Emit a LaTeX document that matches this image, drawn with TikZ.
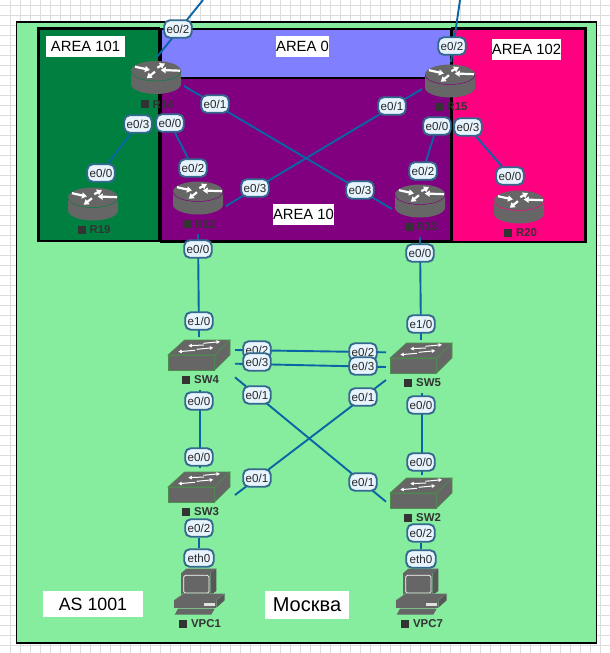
\documentclass[tikz,border=0pt]{standalone}
\usepackage{fontspec}
\setmainfont{Liberation Sans}
\usetikzlibrary{arrows.meta,calc}
\definecolor{gridc}{HTML}{DCDCDC}
\definecolor{asgreen}{HTML}{86EC9E}
\definecolor{linkc}{HTML}{0A65A5}
\definecolor{lblfill}{HTML}{E8F4FD}
\definecolor{lbledge}{HTML}{33698F}
\definecolor{devc}{HTML}{666666}
\definecolor{namec}{HTML}{333333}
\definecolor{a101}{HTML}{008040}
\definecolor{a0}{HTML}{8080FF}
\definecolor{a10}{HTML}{800080}
\definecolor{a102}{HTML}{FF0080}
\pgfdeclarelayer{bglayer}
\pgfdeclarelayer{links}
\pgfsetlayers{bglayer,links,main}
\newcommand{\sqname}[1]{\rule{8pt}{8pt}\hspace{4pt}#1}
\tikzset{
  x=1pt,y=-1pt,
  iface/.style={draw=lbledge,fill=lblfill,line width=1.9pt,rounded corners=5.5pt,minimum width=27.5pt,minimum height=17.5pt,inner sep=0pt,font=\fontsize{11.6}{11.6}\selectfont,text=black!85},
  ifacewide/.style={iface,minimum width=29.5pt},
  devname/.style={font=\fontsize{11.4}{11.4}\selectfont\bfseries,text=namec,inner sep=0pt},
  devbox/.style={inner sep=0pt,minimum width=#1,minimum height=30pt},
  arealabel/.style={fill=white,text=black,inner sep=0pt,minimum height=21pt,font=\fontsize{14.8}{15}\selectfont},
  areafill/.style={draw=black,line width=2.6pt},
  link/.style={draw=linkc,line width=1.9pt},
  rarrow/.style={white,line width=2.2pt,-{Triangle[width=6pt,length=5pt]}},
  sarrow/.style={white,line width=1pt,-{Triangle[width=3.5pt,length=3.5pt]}},
  router/.pic={
    \fill[devc] (-25,-6.5) -- (-25,6.5) arc[start angle=180,end angle=0,x radius=25,y radius=10] -- (25,-6.5) -- cycle;
    \fill[devc] (0,-6.5) ellipse [x radius=25,y radius=10];
    \draw[pic actions,line width=0.5pt] (-25,-6.5) arc[start angle=180,end angle=0,x radius=25,y radius=10];
    \draw[rarrow] (-21,-10.8) -- (-6,-7.5);
    \draw[rarrow] (24,-6.8) -- (4.7,-7.5);
    \draw[rarrow] (1.3,-9.8) -- (9,-14);
    \draw[rarrow] (-1,-5.8) -- (-9.3,0.8);
  },
  switchicon/.pic={
    \filldraw[fill=devc,draw=black!35!green!40!gray,line width=0.6pt] (-31,0) -- (15.7,0) -- (15.7,15) -- (-31,15) -- cycle;
    \filldraw[fill=devc,draw=black!35!green!40!gray,line width=0.6pt] (-31,0) -- (-14.5,-15) -- (31,-15) -- (15.7,0) -- cycle;
    \filldraw[fill=devc,draw=black!35!green!40!gray,line width=0.6pt] (15.7,0) -- (31,-15) -- (31,0) -- (15.7,15) -- cycle;
    \draw[sarrow] (4.3,-11.7) -- (21,-13.3);
    \draw[sarrow] (5,-10) -- (-10.7,-9.3);
    \draw[sarrow] (-2.3,-5.7) -- (14.3,-7.3);
    \draw[sarrow] (-4,-4.7) -- (-20.7,-3.3);
  },
  pcicon/.pic={
    \fill[devc] (-17.7,-19) -- (-12.7,-23.3) -- (17.3,-23.3) -- (11.3,-19) -- cycle;
    \fill[devc!85!black] (11.3,-19) -- (17.3,-23.3) -- (17.3,-1) -- (11.3,3.3) -- cycle;
    \fill[devc] (-17.7,-19) rectangle (11.3,3.3);
    \draw[white,line width=0.7pt,rounded corners=1.5pt] (-15.3,-16.7) rectangle (10,1);
    \filldraw[fill=devc,draw=asgreen!70!gray,line width=0.4pt] (-25.3,8.3) -- (-16,1.7) -- (25.7,1.7) -- (17.3,8.3) -- cycle;
    \fill[devc] (-25.3,8.3) rectangle (17.3,15.7);
    \fill[devc!85!black] (17.3,8.3) -- (25.7,1.7) -- (25.7,8.3) -- (17.3,15.7) -- cycle;
    \fill[white!80!devc] (4.7,11.3) rectangle (16.3,13.7);
    \fill[devc] (-24.3,22.7) -- (-21,16.7) -- (15.7,16.7) -- (12.3,22.7) -- cycle;
  }
}
\begin{document}
\begin{tikzpicture}
\useasboundingbox (0,0) rectangle (610,653);
\begin{pgfonlayer}{bglayer}
  \fill[white] (0,0) rectangle (610,653);
  \foreach \gx in {10,20,...,600} {\draw[gridc,line width=1pt] (\gx,0) -- (\gx,653);}
  \foreach \gy in {5,15,...,645} {\draw[gridc,line width=1pt] (0,\gy) -- (610,\gy);}
  \filldraw[fill=asgreen,draw=black,line width=1.3pt] (16.5,22) rectangle (596.5,643);
  \filldraw[fill=a0,areafill,line width=2pt] (160.5,28.7) rectangle (450.7,78);
  \filldraw[fill=a10,areafill] (161,78) rectangle (451,241.5);
  \filldraw[fill=a101,areafill] (38.7,28.7) rectangle (159,241);
  \filldraw[fill=a102,areafill] (452,28.7) rectangle (585.5,242);
\end{pgfonlayer}

% area and site labels
\node[arealabel,minimum width=79pt] (t101) at (85.5,46.5) {AREA 101};
\node[arealabel,minimum width=51pt] (t0) at (302.5,46.5) {AREA 0};
\node[arealabel,minimum width=59pt] (t10) at (303.5,214.5) {AREA 10};
\node[arealabel,minimum width=67pt] (t102) at (526.5,49.5) {AREA 102};
\node[arealabel,minimum width=100pt,minimum height=26pt,font=\fontsize{17.8}{18}\selectfont] (tas) at (93,604) {AS 1001};
\node[arealabel,minimum width=84pt,minimum height=28pt,font=\fontsize{20}{20}\selectfont] (tmsk) at (307,605) {Москва};

% routers
\node[devbox=50pt] (r14) at (156,77.5) {};
\node[devbox=50pt] (r19) at (93,204) {};
\node[devbox=50pt] (r12) at (198,198) {};
\node[devbox=50pt] (r15) at (450,81) {};
\node[devbox=50pt] (r13) at (420,201) {};
\node[devbox=50pt] (r20) at (519,207) {};
\pic[draw=a101] at (r14) {router};
\pic[draw=a101] at (r19) {router};
\pic[draw=a10] at (r12) {router};
\pic[draw=a10] at (r15) {router};
\pic[draw=a10] at (r13) {router};
\pic[draw=a102] at (r20) {router};

% switches
\node[devbox=62pt] (sw4) at (199,355) {};
\node[devbox=62pt] (sw5) at (421,358) {};
\node[devbox=62pt] (sw3) at (199,487) {};
\node[devbox=62pt] (sw2) at (421,493) {};
\pic at (sw4) {switchicon};
\pic at (sw5) {switchicon};
\pic at (sw3) {switchicon};
\pic at (sw2) {switchicon};

% hosts
\node[devbox=51pt] (vpc1) at (199,592) {};
\node[devbox=51pt] (vpc7) at (421,592) {};
\pic at (vpc1) {pcicon};
\pic at (vpc7) {pcicon};

% device names
\node[devname] (nr14) at (157,104) {\sqname{R14}};
\node[devname] (nr19) at (94,230) {\sqname{R19}};
\node[devname] (nr12) at (199,224) {\sqname{R12}};
\node[devname] (nr15) at (451,107) {\sqname{R15}};
\node[devname] (nr13) at (421,227) {\sqname{R13}};
\node[devname] (nr20) at (520.5,233) {\sqname{R20}};
\node[devname] (nsw4) at (200.5,380) {\sqname{SW4}};
\node[devname] (nsw5) at (422.5,383) {\sqname{SW5}};
\node[devname] (nsw3) at (200.5,512) {\sqname{SW3}};
\node[devname] (nsw2) at (422.5,518) {\sqname{SW2}};
\node[devname] (nvpc1) at (200,624) {\sqname{VPC1}};
\node[devname] (nvpc7) at (422,624) {\sqname{VPC7}};

% interface labels
\node[iface] (a) at (178,29) {e0/2};
\node[iface] (b) at (215,104) {e0/1};
\node[iface] (c) at (138,124) {e0/3};
\node[iface] (d) at (170,123) {e0/0};
\node[iface] (e) at (101,173) {e0/0};
\node[iface] (f) at (193,168) {e0/2};
\node[iface] (g) at (255,188) {e0/3};
\node[iface] (h) at (198,249) {e0/0};
\node[iface] (i) at (452,46) {e0/2};
\node[iface] (j) at (392,106) {e0/1};
\node[iface] (k) at (437,126) {e0/0};
\node[iface] (l) at (468,127) {e0/3};
\node[iface] (m) at (423,171) {e0/2};
\node[iface] (n) at (360,190) {e0/3};
\node[iface] (o) at (510,176) {e0/0};
\node[iface] (p) at (420,253) {e0/0};
\node[iface] (q) at (199,321) {e1/0};
\node[iface] (r) at (421,324) {e1/0};
\node[iface] (s1) at (257,350) {e0/2};
\node[iface] (s2) at (257,362) {e0/3};
\node[iface] (s3) at (257,395) {e0/1};
\node[iface] (t1) at (363,352) {e0/2};
\node[iface] (t2) at (363,366) {e0/3};
\node[iface] (t3) at (363,397) {e0/1};
\node[iface] (u) at (199,401) {e0/0};
\node[iface] (v) at (199,457) {e0/0};
\node[iface] (w) at (257,478) {e0/1};
\node[iface] (x) at (363,482) {e0/1};
\node[iface] (y) at (421,405) {e0/0};
\node[iface] (z) at (421,462) {e0/0};
\node[iface] (aa) at (199,528) {e0/2};
\node[ifacewide] (ab) at (199,558) {eth0};
\node[iface] (ac) at (421,533) {e0/2};
\node[ifacewide] (ad) at (421,559) {eth0};

\coordinate (top1) at (203,0);
\coordinate (top2) at (460,0);

% connectors
\begin{pgfonlayer}{links}
  \draw[link] ([shift={(1,-20.5)}]r14.center) -- (top1);
  \draw[link] ([shift={(1,-19)}]r15.center) -- (top2);
  \draw[link] ([shift={(28,8.5)}]r14.center) -- ([shift={(-28,8)}]r13.center);
  \draw[link] ([shift={(-28,8)}]r15.center) -- ([shift={(28,8)}]r12.center);
  \draw[link] (c) -- (e);
  \draw[link] (d) -- (f);
  \draw[link] (k) -- (m);
  \draw[link] (l) -- (o);
  \draw[link] ([shift={(0,36)}]r12.center) -- ([shift={(0,-18)}]sw4.center);
  \draw[link] ([shift={(0,36)}]r13.center) -- ([shift={(0,-18)}]sw5.center);
  \draw[link] ([shift={(36,-5)}]sw4.center) -- ([shift={(-35,-5.7)}]sw5.center);
  \draw[link] ([shift={(36,8.7)}]sw4.center) -- ([shift={(-35,9)}]sw5.center);
  \draw[link] ([shift={(36,22.3)}]sw4.center) -- ([shift={(-35,8.7)}]sw2.center);
  \draw[link] ([shift={(36,8)}]sw3.center) -- ([shift={(-35,22)}]sw5.center);
  \draw[link] ([shift={(1,35)}]sw4.center) -- ([shift={(1,-19)}]sw3.center);
  \draw[link] ([shift={(0.7,35)}]sw5.center) -- ([shift={(0.7,-18)}]sw2.center);
  \draw[link] (aa) -- (ab);
  \draw[link] (ac) -- (ad);
\end{pgfonlayer}
\end{tikzpicture}
\end{document}
